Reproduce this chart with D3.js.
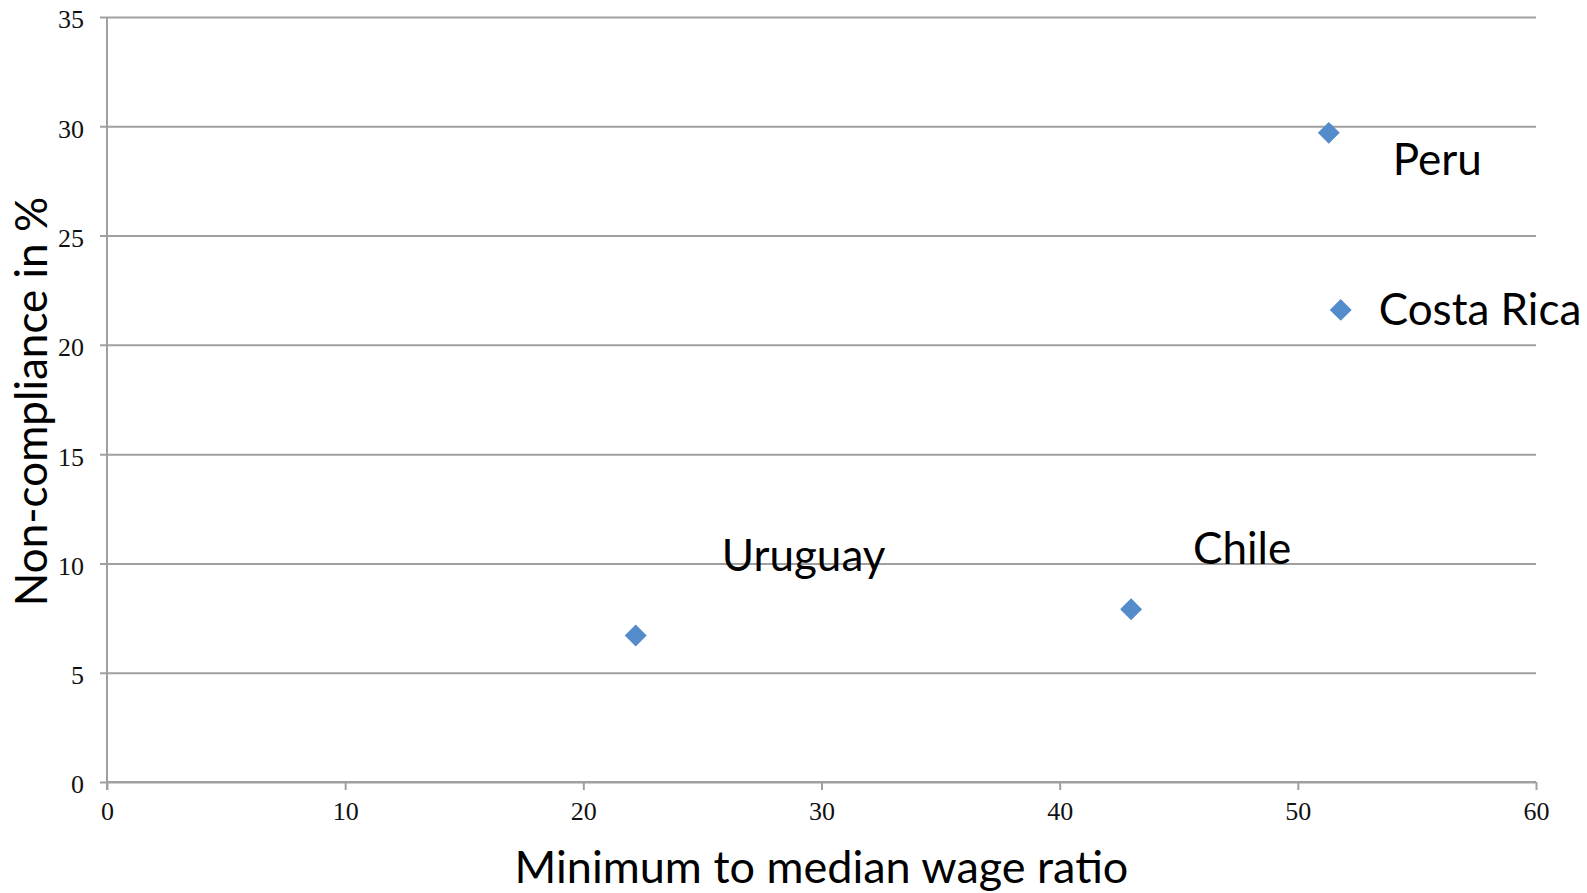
<!DOCTYPE html>
<html>
<head>
<meta charset="utf-8">
<script src="https://cdn.jsdelivr.net/npm/d3@7"></script>
<style>
  html, body { margin: 0; padding: 0; background: #fff; }
  svg { display: block; }
</style>
</head>
<body>
<svg id="chart" width="1587" height="893"></svg>
<script>
// Country observations: minimum-to-median wage ratio vs. non-compliance (%)
const countries = ["Uruguay", "Chile", "Peru", "Costa Rica"];
const wageRatio = [22.2, 43.0, 51.3, 51.8];
const nonCompliance = [6.7, 7.9, 29.7, 21.6];
const xTicks = [0, 10, 20, 30, 40, 50, 60];
const yTicks = [0, 5, 10, 15, 20, 25, 30, 35];

// Label placement relative to each marker (pixels)
const labelOffset = {
  "Uruguay":    { dx: 86, dy: -65 },
  "Chile":      { dx: 62, dy: -45 },
  "Peru":       { dx: 64, dy: 42 },
  "Costa Rica": { dx: 38, dy: 15 }
};

const points = countries.map((c, i) => ({ name: c, x: wageRatio[i], y: nonCompliance[i] }));

const svg = d3.select("#chart");
const margin = { left: 107, right: 51, top: 17, bottom: 111 };
const W = 1587, H = 893;
const gridColor = "#a0a0a0";

const x = d3.scaleLinear().domain([0, 60]).range([margin.left, W - margin.right]);
const y = d3.scaleLinear().domain([0, 35]).range([H - margin.bottom, margin.top]);

// Horizontal gridlines with left tick stubs
const yAxis = d3.axisLeft(y)
  .tickValues(yTicks)
  .tickSize(-(x(60) - x(0)))
  .tickPadding(23)
  .tickFormat(d3.format("d"));
const gy = svg.append("g")
  .attr("transform", `translate(${x(0)},0)`)
  .call(yAxis);
gy.select(".domain").remove();
gy.selectAll(".tick line")
  .attr("x1", -7)
  .attr("stroke", gridColor)
  .attr("stroke-width", 2);
gy.selectAll(".tick text")
  .attr("font-family", "'Liberation Serif', 'Times New Roman', serif")
  .attr("font-size", 26)
  .attr("fill", "#111")
  .attr("dy", "0.42em");

// Bottom axis
const xAxis = d3.axisBottom(x)
  .tickValues(xTicks)
  .tickSize(8)
  .tickPadding(12)
  .tickFormat(d3.format("d"));
const gx = svg.append("g")
  .attr("transform", `translate(0,${y(0)})`)
  .call(xAxis);
gx.select(".domain")
  .attr("d", `M${x(0)},0H${x(60)}`)
  .attr("stroke", gridColor)
  .attr("stroke-width", 2);
gx.selectAll(".tick line")
  .attr("stroke", gridColor)
  .attr("stroke-width", 2);
gx.selectAll(".tick text")
  .attr("font-family", "'Liberation Serif', 'Times New Roman', serif")
  .attr("font-size", 26)
  .attr("fill", "#111");

// Left axis line
svg.append("line")
  .attr("x1", x(0)).attr("x2", x(0))
  .attr("y1", y(35)).attr("y2", y(0) + 8)
  .attr("stroke", gridColor)
  .attr("stroke-width", 2);

// Diamond markers
svg.append("g")
  .selectAll("path")
  .data(points)
  .join("path")
  .attr("d", d3.symbol().type(d3.symbolSquare).size(240))
  .attr("transform", d => `translate(${x(d.x)},${y(d.y)}) rotate(45)`)
  .attr("fill", "#548bcb");

// Country labels
const labelFont = "Lato, 'Open Sans', sans-serif";
svg.append("g")
  .selectAll("text")
  .data(points)
  .join("text")
  .attr("x", d => x(d.x) + labelOffset[d.name].dx)
  .attr("y", d => y(d.y) + labelOffset[d.name].dy)
  .attr("font-family", labelFont)
  .attr("font-size", 44)
  .attr("fill", "#000")
  .text(d => d.name);

// Axis titles
svg.append("text")
  .attr("x", (x(0) + x(60)) / 2)
  .attr("y", 883)
  .attr("text-anchor", "middle")
  .attr("font-family", labelFont)
  .attr("font-size", 45)
  .attr("fill", "#000")
  .text("Minimum to median wage ratio");

svg.append("text")
  .attr("transform", `translate(47,${(y(0) + y(35)) / 2 + 2}) rotate(-90)`)
  .attr("text-anchor", "middle")
  .attr("font-family", labelFont)
  .attr("font-size", 44)
  .attr("fill", "#000")
  .text("Non-compliance in %");
</script>
</body>
</html>
